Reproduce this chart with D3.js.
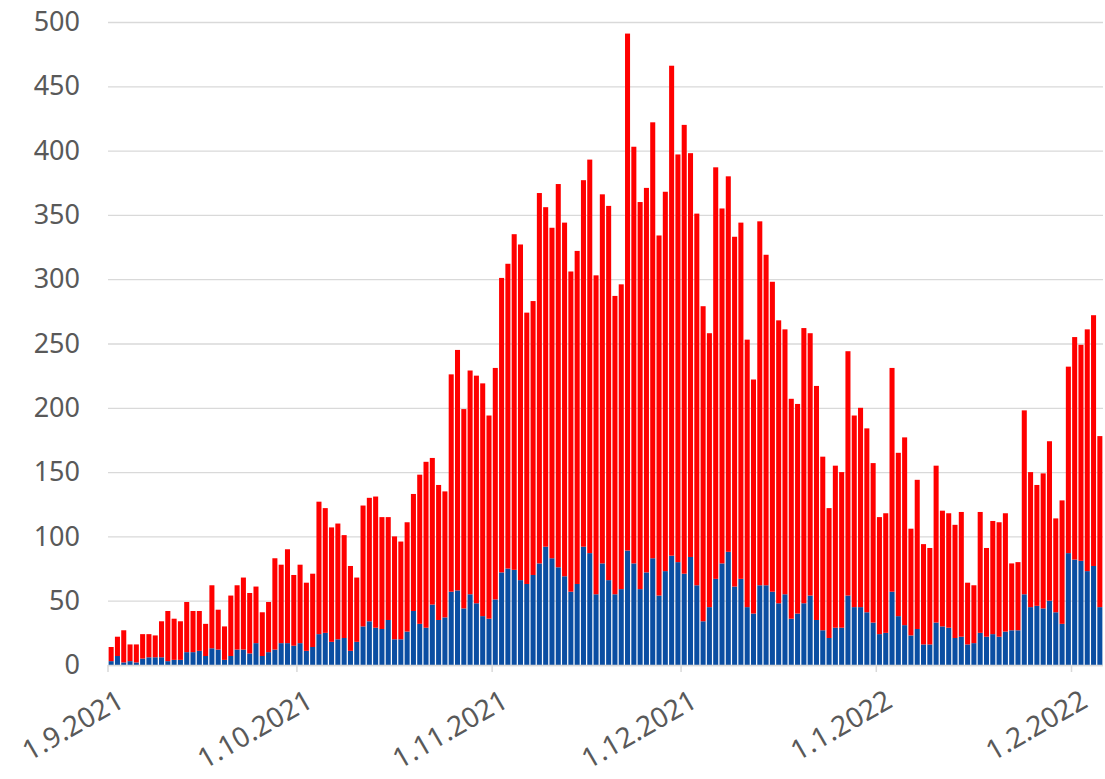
<!DOCTYPE html>
<html>
<head>
<meta charset="utf-8">
<script src="https://cdn.jsdelivr.net/npm/d3@7"></script>
<style>
  body { margin: 0; background: #fff; }
  svg text { font-family: "Noto Sans", sans-serif; fill: #595959; }
</style>
</head>
<body>
<svg id="chart" width="1105" height="779"></svg>
<script>
// daily values 1.9.2021 - 5.2.2022
const startDate = new Date(2021, 8, 1);
const totals = [
  14, 22, 27, 16, 16, 24, 24, 23, 34, 42, 36, 34, 49, 42, 42, 32, 62, 43, 30, 54,
  62, 68, 56, 61, 41, 49, 83, 78, 90, 70, 78, 64, 71, 127, 122, 107, 110, 101, 77, 68,
  124, 130, 131, 115, 115, 100, 96, 111, 133, 148, 158, 161, 140, 135, 226, 245, 199, 229, 225, 219,
  194, 231, 301, 312, 335, 327, 274, 283, 367, 356, 340, 374, 344, 306, 322, 377, 393, 303, 366, 357,
  287, 296, 491, 403, 360, 371, 422, 334, 368, 466, 397, 420, 398, 351, 279, 258, 387, 355, 380, 333,
  344, 253, 222, 345, 319, 298, 268, 261, 207, 203, 262, 258, 217, 162, 122, 155, 150, 244, 194, 200,
  184, 157, 115, 118, 231, 165, 177, 106, 144, 94, 91, 155, 120, 118, 109, 119, 64, 62, 119, 91,
  112, 111, 118, 79, 80, 198, 150, 140, 149, 174, 114, 128, 232, 255, 249, 261, 272, 178
];
const blue = [
  3, 7, 2, 3, 2, 5, 6, 6, 6, 3, 4, 4, 10, 10, 11, 7, 13, 12, 4, 7,
  12, 12, 9, 17, 7, 10, 12, 17, 17, 15, 17, 11, 14, 24, 25, 18, 20, 21, 11, 18,
  30, 34, 29, 28, 35, 20, 20, 26, 42, 32, 29, 47, 35, 37, 57, 58, 44, 55, 48, 38,
  36, 51, 72, 75, 74, 66, 63, 70, 79, 92, 83, 76, 69, 57, 63, 92, 87, 55, 79, 66,
  55, 59, 89, 79, 59, 72, 83, 54, 73, 85, 80, 71, 84, 62, 34, 45, 67, 79, 88, 61,
  67, 45, 40, 62, 62, 57, 48, 55, 36, 40, 48, 54, 35, 27, 21, 29, 29, 54, 45, 45,
  41, 33, 24, 25, 57, 38, 31, 23, 28, 16, 16, 33, 30, 29, 21, 22, 16, 17, 25, 22,
  24, 22, 26, 27, 27, 55, 45, 46, 44, 50, 41, 32, 87, 82, 81, 73, 77, 45
];
const yTicks = [0, 50, 100, 150, 200, 250, 300, 350, 400, 450, 500];
const tickDates = [
  new Date(2021, 8, 1), new Date(2021, 9, 1), new Date(2021, 10, 1),
  new Date(2021, 11, 1), new Date(2022, 0, 1), new Date(2022, 1, 1)
];
const tickLabels = ["1.9.2021", "1.10.2021", "1.11.2021", "1.12.2021", "1.1.2022", "1.2.2022"];

const days = d3.timeDay.range(startDate, d3.timeDay.offset(startDate, totals.length));
const data = days.map((d, i) => ({ date: d, blue: blue[i], red: totals[i] - blue[i] }));

const svg = d3.select("svg#chart");
const plot = { left: 108, right: 1103, top: 22, bottom: 665 };

const x = d3.scaleBand()
  .domain(days.map(d => +d))
  .range([plot.left, plot.right])
  .paddingInner(0.2)
  .paddingOuter(0.1);

const y = d3.scaleLinear().domain([0, 500]).range([plot.bottom, plot.top]);

// gridlines + y labels
const yAxis = svg.append("g")
  .attr("transform", `translate(${plot.left},0)`)
  .call(d3.axisLeft(y).tickValues(yTicks).tickSize(-(plot.right - plot.left)).tickPadding(28));
yAxis.select(".domain").remove();
yAxis.selectAll(".tick line").attr("stroke", "#d9d9d9").attr("stroke-width", 1.3);
yAxis.selectAll(".tick text").style("font-size", "27px").attr("fill", "#595959");

// stacked bars
const stack = d3.stack().keys(["blue", "red"]);
const series = stack(data);
const colors = { blue: "#0b4ea2", red: "#ff0000" };

svg.append("g")
  .selectAll("g")
  .data(series)
  .join("g")
  .attr("fill", s => colors[s.key])
  .selectAll("rect")
  .data(s => s)
  .join("rect")
  .attr("x", d => x(+d.data.date))
  .attr("width", x.bandwidth())
  .attr("y", d => y(d[1]))
  .attr("height", d => y(d[0]) - y(d[1]));

// x axis
const bandStart = d => x(+d) - x.step() * x.paddingInner() / 2;
const xg = svg.append("g");
xg.append("line")
  .attr("x1", plot.left).attr("x2", plot.right)
  .attr("y1", plot.bottom + 0.5).attr("y2", plot.bottom + 0.5)
  .attr("stroke", "#d9d9d9").attr("stroke-width", 1.5);
xg.selectAll("line.tick")
  .data(tickDates)
  .join("line")
  .attr("class", "tick")
  .attr("x1", d => bandStart(d)).attr("x2", d => bandStart(d))
  .attr("y1", plot.bottom).attr("y2", plot.bottom + 7)
  .attr("stroke", "#d9d9d9").attr("stroke-width", 1.5);
xg.selectAll("text")
  .data(tickDates)
  .join("text")
  .attr("transform", d => `translate(${bandStart(d) + 8},${plot.bottom + 24}) rotate(-30)`)
  .attr("text-anchor", "end")
  .attr("dy", "0.7em")
  .style("font-size", "28px")
  .text((d, i) => tickLabels[i]);
</script>
</body>
</html>
